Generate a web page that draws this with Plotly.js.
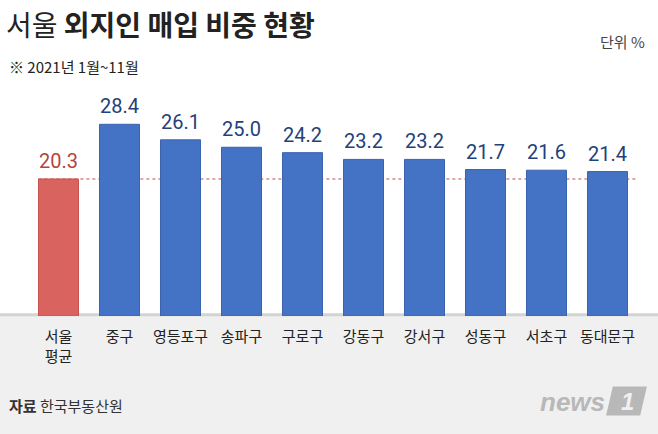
<!DOCTYPE html>
<html>
<head>
<meta charset="utf-8">
<script src="https://cdn.plot.ly/plotly-3.0.1.min.js"></script>
<style>html,body{margin:0;padding:0;background:#fff;}#chart{width:658px;height:434px;}</style>
</head>
<body>
<div id="chart"></div>
<script>
var categories = ['서울<br>평균','중구','영등포구','송파구','구로구','강동구','강서구','성동구','서초구','동대문구'];
var values = [20.3, 28.4, 26.1, 25.0, 24.2, 23.2, 23.2, 21.7, 21.6, 21.4];
var average = 20.3;

var FONT = 'Noto Sans CJK KR, Roboto, sans-serif';
var barColors = values.map(function(v, i){ return i === 0 ? '#d9635e' : '#4472c4'; });
var lineColors = values.map(function(v, i){ return i === 0 ? '#c9524d' : '#3a63ae'; });
var labelColors = values.map(function(v, i){ return i === 0 ? '#b5443f' : '#23417a'; });

var trace = {
  type: 'bar',
  x: categories,
  y: values,
  marker: {color: barColors, line: {color: lineColors, width: 1}},
  width: 0.656,
  hoverinfo: 'none'
};

var annotations = values.map(function(v, i){
  return {
    x: categories[i], y: v, xref: 'x', yref: 'y',
    text: v.toFixed(1), showarrow: false, yanchor: 'bottom', yshift: 4,
    font: {family: 'Roboto, sans-serif', size: 20, color: labelColors[i]}
  };
});

var layout = {
  width: 658, height: 434,
  margin: {l: 28, r: 20, t: 100, b: 118},
  paper_bgcolor: '#ffffff',
  plot_bgcolor: 'rgba(0,0,0,0)',
  showlegend: false,
  bargap: 0.344,
  xaxis: {
    type: 'category', range: [-0.5, 9.5], showgrid: false, zeroline: false, showline: false,
    ticks: '', ticklabelstandoff: 10,
    tickfont: {family: FONT, size: 15, color: '#222'}, fixedrange: true
  },
  yaxis: {
    range: [0, 32], showgrid: false, zeroline: false, showline: false, showticklabels: false,
    fixedrange: true
  },
  title: {
    text: '서울 <b>외지인 매입 비중 현황</b>',
    font: {family: FONT, size: 28, color: '#222'},
    x: 6/658, xanchor: 'left', xref: 'container', y: 1 - 26/434, yanchor: 'middle', yref: 'container'
  },
  shapes: [
    {type: 'rect', xref: 'paper', yref: 'paper', layer: 'below',
     x0: -0.1, x1: 1.1, y0: -1, y1: 0, fillcolor: '#f0f0f0', line: {width: 0}},
    {type: 'line', xref: 'paper', yref: 'paper', layer: 'below',
     x0: -0.1, x1: 1.1, y0: 0.006, y1: 0.006, line: {color: '#d3d3d3', width: 3}},
    {type: 'line', xref: 'x', yref: 'y', layer: 'below',
     x0: -0.33, x1: 9.55, y0: average, y1: average,
     line: {color: '#d98a87', width: 1.5, dash: 'dot'}},
    {type: 'path', xref: 'paper', yref: 'paper', layer: 'above',
     path: 'M ' + ((614-28)/610) + ' ' + ((316-388)/216) + ' L ' + ((645-28)/610) + ' ' + ((316-388)/216) +
           ' L ' + ((639-28)/610) + ' ' + ((316-414)/216) + ' L ' + ((608-28)/610) + ' ' + ((316-414)/216) + ' Z',
     fillcolor: '#b8b8b8', line: {color: '#b8b8b8', width: 3}}
  ],
  annotations: annotations.concat([
    {xref: 'paper', yref: 'paper', x: (7-28)/610, y: (316-66)/216, xanchor: 'left', yanchor: 'middle',
     text: '※ 2021년 1월~11월', showarrow: false, font: {family: FONT, size: 15, color: '#222'}},
    {xref: 'paper', yref: 'paper', x: (647-28)/610, y: (316-42)/216, xanchor: 'right', yanchor: 'middle',
     text: '단위 %', showarrow: false, font: {family: FONT, size: 15, color: '#444'}},
    {xref: 'paper', yref: 'paper', x: (7-28)/610, y: (316-405)/216, xanchor: 'left', yanchor: 'middle',
     text: '<b>자료</b> 한국부동산원', showarrow: false, font: {family: FONT, size: 15, color: '#333'}},
    {xref: 'paper', yref: 'paper', x: (607-28)/610, y: (316-402)/216, xanchor: 'right', yanchor: 'middle',
     text: '<b><i>news</i></b>', showarrow: false, font: {family: 'Liberation Sans, sans-serif', size: 26, color: '#b8b8b8'}},
    {xref: 'paper', yref: 'paper', x: (627-28)/610, y: (316-401)/216, xanchor: 'center', yanchor: 'middle',
     text: '<b><i>1</i></b>', showarrow: false, font: {family: 'Liberation Sans, sans-serif', size: 24, color: '#f0f0f0'}}
  ])
};

Plotly.newPlot('chart', [trace], layout, {displayModeBar: false, staticPlot: true});
</script>
</body>
</html>
